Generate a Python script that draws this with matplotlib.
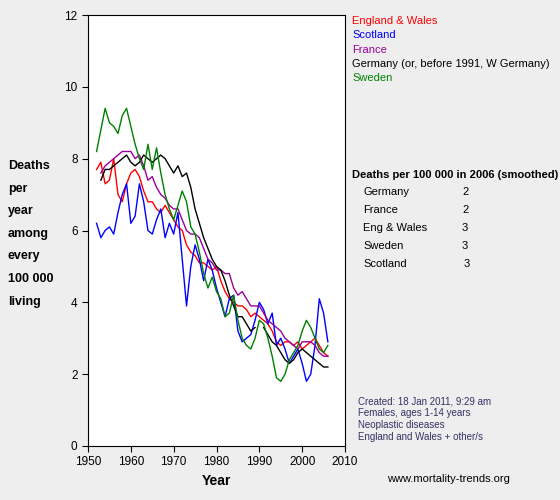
import matplotlib
matplotlib.use("Agg")
import matplotlib.pyplot as plt
import numpy as np
plt.rcParams['font.family'] = ['Liberation Sans', 'DejaVu Sans']

years = list(range(1952, 2007))
nan = np.nan
ew = [7.7,7.9,7.3,7.4,8.0,7.0,6.8,7.3,7.6,7.7,7.5,7.1,6.8,6.8,6.6,6.5,6.7,6.5,6.3,6.1,6.0,5.6,5.4,5.3,5.1,5.1,5.0,4.9,5.0,4.6,4.3,4.1,4.0,3.9,3.9,3.8,3.6,3.7,3.6,3.5,3.4,3.2,2.9,2.8,2.9,2.9,2.8,2.9,2.7,2.8,2.9,3.0,2.8,2.6,2.5]
sc = [6.2,5.8,6.0,6.1,5.9,6.5,7.0,7.3,6.2,6.4,7.3,6.8,6.0,5.9,6.3,6.6,5.8,6.2,5.9,6.5,5.2,3.9,5.0,5.6,5.2,4.6,5.2,4.9,4.4,4.0,3.6,4.1,4.2,3.2,2.9,3.0,3.1,3.5,4.0,3.8,3.4,3.7,2.8,3.0,2.7,2.3,2.5,2.7,2.3,1.8,2.0,2.8,4.1,3.7,2.9]
fr = [nan,7.6,7.8,7.9,8.0,8.1,8.2,8.2,8.2,8.0,8.1,7.8,7.4,7.5,7.2,7.0,6.9,6.7,6.6,6.6,6.3,6.0,5.9,5.9,5.8,5.5,5.2,5.1,4.9,4.9,4.8,4.8,4.4,4.2,4.3,4.1,3.9,3.9,3.9,3.7,3.5,3.4,3.3,3.2,3.0,2.9,2.8,2.7,2.9,2.9,2.9,2.8,2.6,2.5,2.5]
de = [nan,7.4,7.7,7.7,7.8,7.9,8.0,8.1,7.9,7.8,7.9,8.1,8.0,7.9,8.0,8.1,8.0,7.8,7.6,7.8,7.5,7.6,7.2,6.6,6.2,5.8,5.5,5.2,5.0,4.9,4.6,4.2,3.9,3.6,3.6,3.4,3.2,3.3,nan,3.3,3.1,2.9,2.8,2.6,2.4,2.3,2.4,2.6,2.7,2.6,2.5,2.4,2.3,2.2,2.2]
sw = [8.2,8.8,9.4,9.0,8.9,8.7,9.2,9.4,8.9,8.4,8.0,7.7,8.4,7.7,8.3,7.6,7.0,6.6,6.3,6.7,7.1,6.8,6.1,5.9,5.4,4.8,4.4,4.7,4.3,4.1,3.6,3.7,4.2,3.5,3.0,2.8,2.7,3.0,3.5,3.4,3.0,2.5,1.9,1.8,2.0,2.4,2.6,2.8,3.2,3.5,3.3,3.0,2.7,2.6,2.8]

legend_names = ["England & Wales", "Scotland", "France", "Germany (or, before 1991, W Germany)", "Sweden"]
legend_colors = ["#ff0000", "#0000ff", "#990099", "#000000", "#008000"]
table_countries = ["Germany", "France", "Eng & Wales", "Sweden", "Scotland"]
table_values = [2, 2, 3, 3, 3]

fig = plt.figure(figsize=(5.6, 5.0), dpi=100, facecolor='#eeeeee')
ax = fig.add_axes([88/560, 1-446/500, 257/560, 431/500])
ax.set_facecolor('white')
for data, c in zip([ew, sc, fr, de, sw], legend_colors):
    ax.plot(years, data, color=c, lw=1)
ax.set_xlim(1950, 2010)
ax.set_ylim(0, 12)
ax.set_xticks(range(1950, 2011, 10))
ax.set_yticks(range(0, 13, 2))
ax.tick_params(labelsize=8.5, direction='out', length=4)
ax.set_xlabel("Year", fontsize=10, fontweight='bold')

ylab = ["Deaths", "per", "year", "among", "every", "100 000", "living"]
for i, t in enumerate(ylab):
    fig.text(8/560, 1-(166+22.6*i)/500, t, fontsize=9, fontweight='bold', va='center', ha='left')

for i, (n, c) in enumerate(zip(legend_names, legend_colors)):
    fig.text(352/560, 1-(21+14.3*i)/500, n, color=c, fontsize=8, va='center')

fig.text(352/560, 1-175/500, "Deaths per 100 000 in 2006 (smoothed)", fontsize=8, fontweight='bold', va='center')
for i, (n, v) in enumerate(zip(table_countries, table_values)):
    y = 1-(192+18*i)/500
    fig.text(363/560, y, n, fontsize=8, va='center')
    fig.text((462 + (2 if n == "Scotland" else 0))/560, y, str(v), fontsize=8, va='center')

notes = ["Created: 18 Jan 2011, 9:29 am", "Females, ages 1-14 years", "Neoplastic diseases", "England and Wales + other/s"]
for i, t in enumerate(notes):
    fig.text(358/560, 1-(402+11.5*i)/500, t, fontsize=7, color='#333366', va='center')
fig.text(387/560, 1-479/500, "www.mortality-trends.org", fontsize=8, va='center')

fig.savefig("out.png", dpi=100, facecolor=fig.get_facecolor())
